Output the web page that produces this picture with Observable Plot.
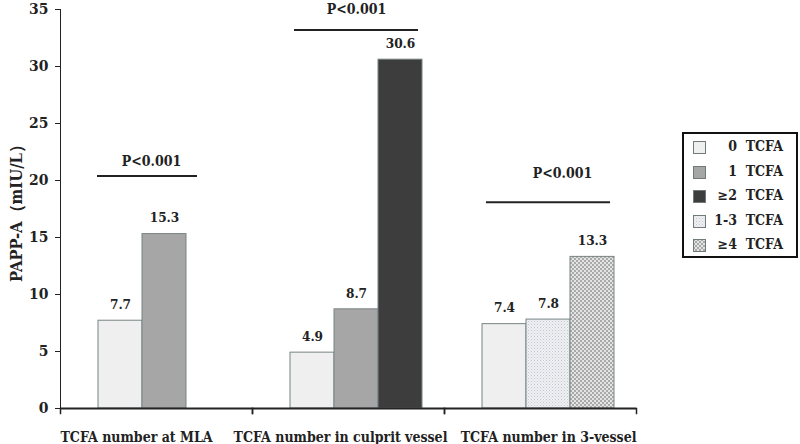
<!DOCTYPE html>
<html>
<head>
<meta charset="utf-8">
<script src="https://cdn.jsdelivr.net/npm/d3@7"></script>
<script src="https://cdn.jsdelivr.net/npm/@observablehq/plot@0.6"></script>
<style>
  body { margin: 0; background: #fff; }
  #wrap { position: relative; width: 800px; height: 444px; font-family: "DejaVu Serif Condensed", "DejaVu Serif", serif; }
  #legend { position: absolute; left: 682px; top: 132px; width: 112px; height: 120px; border: 2px solid #111; padding-top: 2px; box-sizing: content-box; }
  .row { position: relative; height: 24.5px; font-weight: bold; font-size: 14px; color: #222; }
  .row svg { position: absolute; left: 9px; top: 5px; }
  .row span { position: absolute; right: 13px; top: 2px; white-space: pre; }
</style>
</head>
<body>
<div id="wrap"><div id="chart"></div><div id="legend"></div></div>
<script>
// ---- data ----
const groups = ["TCFA number at MLA", "TCFA number in culprit vessel", "TCFA number in 3-vessel"];
const seriesNames = ["0 TCFA", "1 TCFA", "≥2 TCFA", "1-3 TCFA", "≥4 TCFA"];
const seriesFills = ["#efefef", "#a6a6a6", "#3d3d3d", "url(#pat13)", "url(#pat4)"];

const mlaSeries = ["0 TCFA", "1 TCFA"];
const mlaValues = [7.7, 15.3];
const culpritSeries = ["0 TCFA", "1 TCFA", "≥2 TCFA"];
const culpritValues = [4.9, 8.7, 30.6];
const vesselSeries = ["0 TCFA", "1-3 TCFA", "≥4 TCFA"];
const vesselValues = [7.4, 7.8, 13.3];

const pLabels = ["P<0.001", "P<0.001", "P<0.001"];
const pLineY = [20.4, 33.2, 18.1];
const pTextY = [21.7, 35.0, 20.6];
const pSlotEnd = [1, 2, 2];

const yTicks = [0, 5, 10, 15, 20, 25, 30, 35];

// ---- table ----
const bars = [];
[[mlaSeries, mlaValues], [culpritSeries, culpritValues], [vesselSeries, vesselValues]].forEach(([s, v], gi) => {
  s.forEach((name, k) => bars.push({group: groups[gi], slot: k, series: name, value: v[k]}));
});
const pvals = groups.map((g, i) => ({group: g, label: pLabels[i], lineY: pLineY[i], textY: pTextY[i], slotEnd: pSlotEnd[i]}));

const serif = "'DejaVu Serif Condensed', 'DejaVu Serif', serif";
const txt = {fontFamily: serif, fontWeight: "bold", fill: "#222"};

const chart = Plot.plot({
  width: 800,
  height: 444,
  marginLeft: 60,
  marginRight: 164,
  marginTop: 9,
  marginBottom: 36,
  style: {fontFamily: serif, fontWeight: "bold", fontSize: "15.5px", color: "#222", background: "white"},
  fx: {domain: groups, padding: 0, paddingInner: 0, paddingOuter: 0, label: null, axis: null},
  x: {type: "band", domain: [0, 1, 2], paddingInner: 0, paddingOuter: 0.68, align: 0.63, axis: null},
  y: {domain: [0, 35], ticks: yTicks, tickSize: 5, tickPadding: 7, line: true, label: "PAPP-A（mIU/L）", labelAnchor: "center", labelOffset: 50, labelArrow: "none"},
  color: {domain: seriesNames, range: seriesFills},
  marks: [
    Plot.barY(bars, {fx: "group", x: "slot", y: "value", fill: "series", stroke: "#788484", strokeWidth: 1}),
    Plot.text(bars, {fx: "group", x: "slot", y: "value", text: d => d.value.toFixed(1), dy: -16, fontSize: 13.5, ...txt}),
    Plot.ruleY([0], {stroke: "#222", strokeWidth: 2}),
    Plot.frame({anchor: "left", insetTop: 399, insetBottom: -5, stroke: "#222", strokeWidth: 1.5}),
    Plot.frame({anchor: "right", insetTop: 399, insetBottom: -5, stroke: "#222", strokeWidth: 1.5}),
    // category labels under the axis
    Plot.text([groups[0]], {fx: d => d, text: d => d, frameAnchor: "bottom-left", textAnchor: "start", lineAnchor: "middle", dy: 29, fontSize: 14, ...txt}),
    Plot.text([groups[1]], {fx: d => d, text: d => d, frameAnchor: "bottom", lineAnchor: "middle", dy: 29, dx: -8, fontSize: 14, ...txt}),
    Plot.text([groups[2]], {fx: d => d, text: d => d, frameAnchor: "bottom-right", textAnchor: "end", lineAnchor: "middle", dy: 29, fontSize: 14, ...txt}),
    // significance brackets
    Plot.ruleY(pvals.filter(d => d.slotEnd === 1), {fx: "group", x1: () => 0, x2: "slotEnd", y: "lineY", insetLeft: -1, insetRight: -11, stroke: "#222", strokeWidth: 2}),
    Plot.ruleY(pvals.filter(d => d.slotEnd === 2), {fx: "group", x1: () => 0, x2: "slotEnd", y: "lineY", insetLeft: 4, insetRight: 4, stroke: "#222", strokeWidth: 2}),
    Plot.text([pvals[0]], {fx: "group", x: () => 0, y: "textY", text: "label", dx: 31, fontSize: 14, ...txt, ariaLabel: "pvalue"}),
    Plot.text([pvals[1]], {fx: "group", x: () => 1, y: "textY", text: "label", dx: 0, fontSize: 14, ...txt, ariaLabel: "pvalue"}),
    Plot.text([pvals[2]], {fx: "group", x: () => 1, y: "textY", text: "label", dx: 14, fontSize: 14, ...txt, ariaLabel: "pvalue"})
  ]
});

// patterns for the hatched series
const svg = d3.select(chart.tagName.toLowerCase() === "svg" ? chart : chart.querySelector("svg"));
const defs = svg.insert("defs", ":first-child");
const p13 = defs.append("pattern").attr("id", "pat13").attr("width", 3).attr("height", 3).attr("patternUnits", "userSpaceOnUse");
p13.append("rect").attr("width", 3).attr("height", 3).attr("fill", "#eef0f3");
p13.append("rect").attr("width", 1).attr("height", 1).attr("fill", "#c3c6cc");
p13.append("rect").attr("x", 1.5).attr("y", 1.5).attr("width", 1).attr("height", 1).attr("fill", "#d0d3d8");
const p4 = defs.append("pattern").attr("id", "pat4").attr("width", 4).attr("height", 4).attr("patternUnits", "userSpaceOnUse");
p4.append("rect").attr("width", 4).attr("height", 4).attr("fill", "#e4e4e4");
p4.append("rect").attr("width", 2).attr("height", 2).attr("fill", "#a9a9a9");
p4.append("rect").attr("x", 2).attr("y", 2).attr("width", 2).attr("height", 2).attr("fill", "#a9a9a9");

// italic P in p-value labels
svg.selectAll('g[aria-label="pvalue"] text').each(function() {
  const t = d3.select(this);
  const s = t.text();
  t.text(null);
  t.append("tspan").attr("font-style", "italic").attr("font-family", "'DejaVu Serif', serif").text(s.slice(0, 1));
  t.append("tspan").text(s.slice(1));
});

// larger y-axis title
svg.selectAll('g[aria-label="y-axis label"]').attr("font-size", "16.5px");

document.getElementById("chart").appendChild(chart);

// legend
const legend = d3.select("#legend");
seriesNames.forEach((name, i) => {
  const row = legend.append("div").attr("class", "row");
  const sw = row.append("svg").attr("width", 13).attr("height", 13);
  sw.append("rect").attr("x", 0.5).attr("y", 0.5).attr("width", 12).attr("height", 12)
    .attr("fill", seriesFills[i]).attr("stroke", "#6f7b7b");
  row.append("span").text(name.replace(" ", "  "));
});
</script>
</body>
</html>
